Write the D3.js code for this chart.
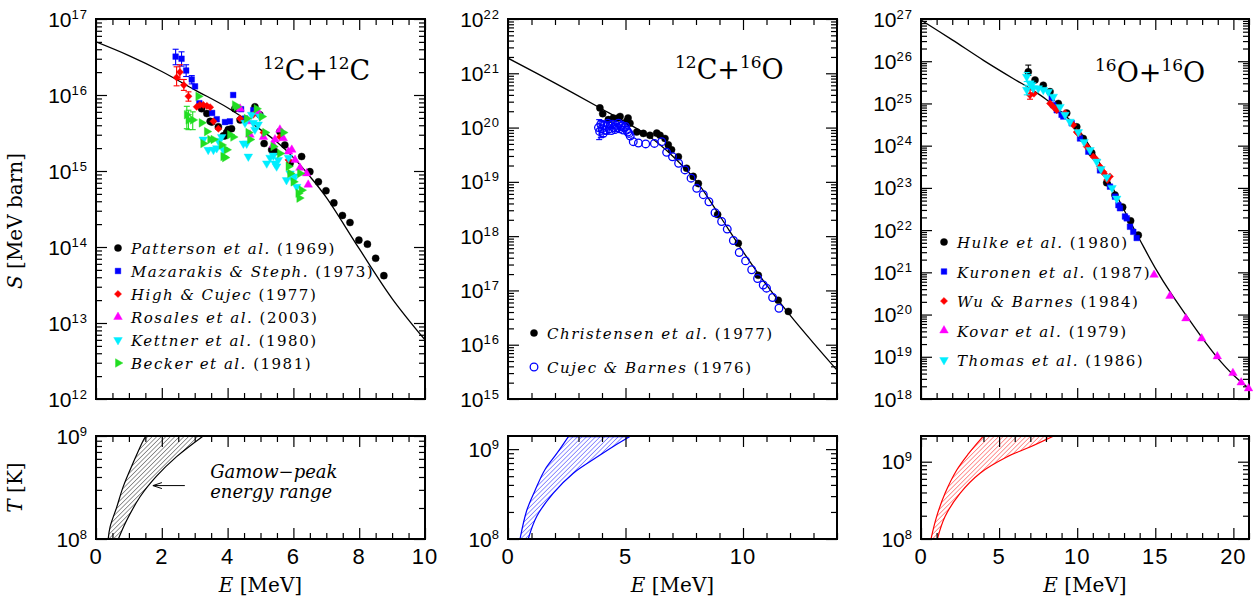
<!DOCTYPE html>
<html>
<head>
<meta charset="utf-8">
<script src="https://cdn.jsdelivr.net/npm/d3@7/dist/d3.min.js"></script>
<style>
  body { margin: 0; background: #fff; }
  .num { font-family: "Liberation Sans", Arial, sans-serif; }
  .lbl { font-family: "DejaVu Serif", serif; }
</style>
</head>
<body>
<svg id="chart" width="1253" height="603"></svg>
<script>
// ---------------- 12C + 12C  (E [MeV], S [MeV barn]) ----------------
const ccModel = [[0,5.0e16],[1,3.3e16],[2,2.04e16],[3,1.17e16],[4,6.8e15],[5,3.5e15],[5.5,2.4e15],[6,1.5e15],
  [6.5,8.5e14],[7,4.5e14],[8,9.5e13],[9,2.1e13],[10,6.0e12]];
const ccPatterson = [[3.21,6.6e15],[3.37,5.7e15],[3.47,4.5e15],[3.52,4.4e15],[3.72,3.8e15],[3.87,2.9e15],[3.92,2.9e15],
  [3.97,3.2e15],[4.02,3.5e15],[4.12,3.6e15],[4.22,6.6e15],[4.38,4.7e15],[4.83,7.0e15],[4.98,5.5e15],[5.11,2.3e15],
  [5.34,1.9e15],[5.44,1.8e15],[5.59,3.3e15],[5.74,2.2e15],[5.90,1.26e15],[6.25,1.55e15],[6.50,9.8e14],[6.76,7.2e14],
  [6.99,5.5e14],[7.23,3.8e14],[7.49,2.6e14],[7.72,2.1e14],[7.99,1.23e14],[8.25,1.09e14],[8.50,7.1e13],[8.75,4.2e13]];
const ccMazarakis = [[2.42,3.2e16],[2.60,3.0e16],[2.74,2.1e16],[2.91,1.6e16],[3.01,1.3e16],[3.14,7.8e15],[3.53,5.8e15],
  [3.67,4.8e15],[3.92,4.4e15],[4.07,4.5e15],[4.17,1.0e16],[4.41,6.5e15],[4.53,4.9e15],[4.78,6.3e15]];
const ccMazarakisErr = [[2.42,2.5e16,4.0e16],[2.60,2.4e16,3.7e16],[2.74,1.75e16,2.5e16],[2.91,1.4e16,1.8e16]];
const ccHigh = [[2.45,1.7e16],[2.55,2.0e16],[2.67,1.35e16],[2.81,9.6e15],[3.06,7.0e15],[3.16,7.4e15],[3.26,7.4e15],
  [3.37,7.2e15],[3.47,6.9e15],[3.57,4.5e15],[3.72,3.6e15],[4.38,4.9e15],[4.78,5.5e15],[5.09,3.2e15],[5.59,2.8e15],[5.85,1.4e15]];
const ccHighErr = [[2.45,1.32e16,2.35e16],[2.55,1.6e16,2.5e16],[2.67,1.15e16,1.6e16],[2.81,8.3e15,1.1e16]];
const ccRosales = [[4.38,6.6e15],[4.63,4.5e15],[4.68,3.0e15],[4.93,6.0e15],[5.09,2.8e15],[5.39,2.2e15],[5.44,2.6e15],
  [5.59,3.5e15],[5.69,2.7e15],[5.85,1.8e15],[5.95,1.9e15],[6.05,1.4e15],[6.20,1.1e15],[6.40,9.3e14],[6.45,6.6e14]];
const ccKettner = [[3.26,2.6e15],[3.41,1.9e15],[3.57,1.9e15],[3.67,2.0e15],[3.72,2.5e15],[3.82,2.8e15],[3.87,1.9e15],
  [4.48,2.3e15],[4.53,4.3e15],[4.58,2.3e15],[4.63,1.55e15],[4.73,5.5e15],[4.78,4.3e15],[4.83,3.5e15],[4.93,4.1e15],
  [4.98,5.2e15],[5.19,1.26e15],[5.29,1.5e15],[5.39,1.6e15],[5.44,1.26e15],[5.49,1.15e15],[5.54,1.4e15],[5.79,7.6e14],
  [5.85,1.5e15],[5.90,9.3e14],[6.00,7.6e14],[6.02,8.5e14],[6.10,6.2e14]];
const ccBecker = [[2.76,5.5e15],[2.81,4.7e15],[2.94,4.7e15],[3.11,9.6e15],[3.21,4.3e15],[3.26,2.3e15],[3.37,3.3e15],
  [3.47,2.6e15],[3.57,2.6e15],[3.82,2.2e15],[3.87,1.55e15],[3.92,1.5e15],[3.97,1.9e15],[4.07,3.0e15],[4.17,2.8e15],
  [4.22,7.4e15],[4.27,7.0e15],[4.58,4.9e15],[4.63,3.2e15],[4.68,2.6e15],[4.88,6.6e15],[5.04,5.2e15],[5.14,3.2e15],
  [5.39,2.1e15],[5.59,1.7e15],[5.69,3.2e15],[5.85,1.15e15],[5.90,9.3e14],[6.00,7.2e14],[6.15,5.1e14],[6.18,4.4e14],
  [6.20,9.3e14],[6.25,5.6e14]];
const ccBeckerErr = [[2.76,3.6e15,7.1e15],[2.81,3.5e15,6.3e15],[2.94,3.5e15,6.0e15]];
const ccNames = ["Patterson et al.", "Mazarakis & Steph.", "High & Cujec", "Rosales et al.", "Kettner et al.", "Becker et al."];
const ccYears = ["(1969)", "(1973)", "(1977)", "(2003)", "(1980)", "(1981)"];
// Gamow window edges: [T (K), E (MeV)]
const ccGamowLow = [[1e8,0.37],[1.32e8,0.43],[2.04e8,0.63],[3.24e8,0.83],[5.5e8,1.13],[9.1e8,1.44],[1e9,1.52]];
const ccGamowHigh = [[1e8,0.68],[1.51e8,0.93],[2.57e8,1.34],[4.07e8,1.84],[6.3e8,2.45],[1e9,3.26]];

// ---------------- 12C + 16O ----------------
const coModel = [[0,1.9e21],[2,6.6e20],[4,2.2e20],[5,1.26e20],[6,6.9e19],[7,3.0e19],[8,1.05e19],[9,2.4e18],
  [10,5.2e17],[11,1.26e17],[12,3.5e16],[13,1.07e16],[14,3.4e15]];
const coChristensen = [[3.91,2.3e20],[4.03,1.8e20],[4.27,1.4e20],[4.48,1.5e20],[4.69,1.5e20],[4.77,1.6e20],[5.05,1.3e20],
  [5.11,1.5e20],[5.19,1.2e20],[5.48,8.3e19],[5.76,7.8e19],[6.04,7.2e19],[6.33,7.9e19],[6.47,7.2e19],[6.68,6.3e19],
  [6.82,4.8e19],[6.96,3.9e19],[7.25,2.9e19],[7.60,1.78e19],[7.88,1.26e19],[8.10,9.3e18],[8.92,2.5e18],[9.80,7.4e17],
  [10.65,1.9e17],[11.50,6.6e16],[11.93,4.1e16]];
const coCujec = [[3.85,1.0e20],[3.90,8.5e19],[3.95,1.15e20],[4.00,9.5e19],[4.05,7.8e19],[4.10,1.1e20],[4.15,9.0e19],
  [4.20,1.05e20],[4.25,1.2e20],[4.30,9.5e19],[4.35,1.1e20],[4.40,8.8e19],[4.45,1.15e20],[4.50,1.0e20],[4.55,9.2e19],
  [4.60,1.1e20],[4.65,1.0e20],[4.70,1.2e20],[4.75,9.5e19],[4.80,1.05e20],[4.85,1.1e20],[4.90,9.0e19],[4.95,1.0e20],
  [5.00,1.05e20],[5.05,9.0e19],[5.10,8.3e19],[5.15,7.8e19],[5.20,7.0e19],[5.33,5.5e19],[5.55,5.2e19],[5.86,5.0e19],
  [6.23,5.1e19],[6.54,5.5e19],[6.75,3.5e19],[7.00,2.9e19],[7.26,2.2e19],[7.53,1.66e19],[7.79,1.17e19],[8.03,7.6e18],
  [8.31,5.8e18],[8.55,4.3e18],[8.81,2.7e18],[9.09,1.86e18],[9.33,1.35e18],[9.59,8.3e17],[9.84,5.0e17],[10.11,3.5e17],
  [10.37,2.4e17],[10.62,1.66e17],[10.86,1.26e17],[11.00,1.1e17],[11.26,7.4e16],[11.53,4.7e16]];
const coCujecErr = [[3.88,6.0e19,1.4e20],[3.95,6.5e19,1.35e20],[4.05,6.8e19,1.3e20],[4.20,7.5e19,1.3e20]];
const coNames = ["Christensen et al.", "Cujec & Barnes"];
const coYears = ["(1977)", "(1976)"];
const coGamowLow = [[1e8,0.51],[2.09e8,0.80],[3.47e8,1.15],[5.9e8,1.57],[8.9e8,2.07],[1.38e9,2.57]];
const coGamowHigh = [[1e8,0.86],[1.78e8,1.22],[3.24e8,1.93],[5.4e8,2.78],[8.1e8,3.77],[1.07e9,4.48],[1.38e9,5.19]];

// ---------------- 16O + 16O ----------------
const ooModel = [[0,9.5e26],[2,3.2e26],[4,1.05e26],[6,3.7e25],[7,2.24e25],[8,1.26e25],[9,6.3e24],[10,2.6e24],
  [11,7.4e23],[12,1.58e23],[13,3.0e22],[14,6.0e21],[15,1.26e21],[16,3.2e20],[17,9.3e19],[18,2.8e19],[19,9.3e18],
  [20,3.7e18],[21,1.8e18]];
const ooHulke = [[6.87,5.6e25],[7.30,3.6e25],[7.83,2.7e25],[8.26,1.9e25],[8.79,1.0e25],[9.33,5.9e24],[9.97,2.8e24],
  [10.39,1.48e24],[10.93,6.8e23],[11.89,1.32e23],[12.42,6.8e22],[12.91,3.5e22],[13.42,1.66e22],[13.91,7.6e21]];
const ooHulkeErr = [[6.87,4.6e25,8.1e25]];
const ooKuronen = [[8.37,1.32e25],[8.47,9.1e24],[8.69,6.9e24],[9.00,5.4e24],[9.11,4.9e24],[9.65,3.4e24],[10.18,1.48e24],
  [10.71,7.2e23],[11.46,2.6e23],[12.10,1.07e23],[12.42,6.2e22],[12.64,3.9e22],[12.74,3.3e22],[13.06,2.1e22],
  [13.17,1.9e22],[13.38,1.2e22],[13.59,9.1e21],[13.81,6.5e21]];
const ooWu = [[6.98,1.58e25],[7.23,1.7e25],[8.26,1.0e25],[8.47,8.3e24],[8.69,6.9e24],[9.22,5.9e24],[9.75,3.1e24],
  [9.97,2.1e24],[10.07,1.95e24],[10.61,9.5e23],[11.03,5.5e23],[11.25,4.6e23],[11.46,3.2e23],[11.50,2.9e23],
  [11.67,2.4e23],[11.72,2.2e23],[11.93,1.55e23],[12.10,1.86e23]];
const ooWuErr = [[6.98,1.26e25,2.1e25]];
const ooKovar = [[14.92,8.7e20],[15.94,2.75e20],[16.96,8.1e19],[17.97,2.7e19],[18.97,1.02e19],[19.97,4.1e18],
  [20.50,2.45e18],[20.97,1.78e18]];
const ooThomas = [[6.77,4.3e25],[6.77,2.1e25],[6.98,3.0e25],[7.09,2.75e25],[7.19,2.3e25],[7.51,2.3e25],[7.83,2.1e25],
  [8.15,1.9e25],[8.47,1.45e25],[8.90,8.3e24],[9.22,5.4e24],[9.54,3.7e24],[10.07,2.1e24],[10.44,1.23e24],[10.82,7.9e23],
  [11.25,4.2e23],[11.52,2.8e23],[11.89,1.8e23],[12.23,1.0e23],[12.53,5.6e22]];
const ooThomasErr = [[6.77,3.3e25,5.4e25],[6.77,1.6e25,2.7e25]];
const ooNames = ["Hulke et al.", "Kuronen et al.", "Wu & Barnes", "Kovar et al.", "Thomas et al."];
const ooYears = ["(1980)", "(1987)", "(1984)", "(1979)", "(1986)"];
const ooGamowLow = [[1e8,0.64],[1.95e8,1.00],[3.9e8,1.54],[7.8e8,2.29],[1.26e9,3.03],[2.14e9,3.99]];
const ooGamowHigh = [[1e8,1.05],[1.95e8,1.54],[3.9e8,2.50],[7.1e8,3.78],[1.15e9,5.49],[1.55e9,6.98],[2.14e9,8.47]];

// annotation in the first T panel
const gamowText = ["Gamow\u2212peak", "energy range"];
const arrowFrom = [2.7, 3.3e8], arrowTo = [1.73, 3.3e8];

// ---------------- layout ----------------
const svg = d3.select("#chart");
const topBox = {y: 19, h: 380}, botBox = {y: 436, h: 103};

const marks = {
  dot:     {type: d3.symbolCircle,   size: 40, rot: 0},
  square:  {type: d3.symbolSquare,   size: 32, rot: 0},
  diamond: {type: d3.symbolSquare,   size: 26, rot: 45},
  up:      {type: d3.symbolTriangle, size: 32, rot: 0},
  down:    {type: d3.symbolTriangle, size: 32, rot: 180},
  right:   {type: d3.symbolTriangle, size: 32, rot: 90},
  ring:    {type: d3.symbolCircle,   size: 46, rot: 0, open: true}
};
const GREEN = "#22dd22", CYAN = "#00eeff";

const panels = [
  { left: 96, width: 329, xMax: 10, xMajor: 2, xMinor: 0.5,
    sDomain: [1e12, 1e17], tDomain: [1e8, 1e9], model: ccModel,
    title: ["12", "C", "+", "12", "C"], titleAt: [167, 61],
    legend: {names: ccNames, years: ccYears, dx: 22, y0: 230, dy: 23},
    band: [ccGamowLow, ccGamowHigh], bandColor: "#000",
    series: [
      {data: ccPatterson, color: "#000", mark: "dot"},
      {data: ccMazarakis, err: ccMazarakisErr, color: "#0000ff", mark: "square"},
      {data: ccHigh, err: ccHighErr, color: "#ff0000", mark: "diamond"},
      {data: ccRosales, color: "#ff00ff", mark: "up"},
      {data: ccKettner, color: CYAN, mark: "down"},
      {data: ccBecker, err: ccBeckerErr, color: GREEN, mark: "right"}
    ] },
  { left: 508, width: 329, xMax: 14, xMajor: 5, xMinor: 1,
    sDomain: [1e15, 1e22], tDomain: [1e8, 1.4e9], model: coModel,
    title: ["12", "C", "+", "16", "O"], titleAt: [167, 60],
    legend: {names: coNames, years: coYears, dx: 26, y0: 315, dy: 34},
    band: [coGamowLow, coGamowHigh], bandColor: "#0000ff",
    series: [
      {data: coChristensen, color: "#000", mark: "dot"},
      {data: coCujec, err: coCujecErr, color: "#0000ff", mark: "ring"}
    ] },
  { left: 921, width: 328, xMax: 21, xMajor: 5, xMinor: 1,
    sDomain: [1e18, 1e27], tDomain: [1e8, 2.15e9], model: ooModel,
    title: ["16", "O", "+", "16", "O"], titleAt: [174, 63],
    legend: {names: ooNames, years: ooYears, dx: 23, y0: 224, dy: 29.5},
    band: [ooGamowLow, ooGamowHigh], bandColor: "#ff0000",
    series: [
      {data: ooHulke, err: ooHulkeErr, color: "#000", mark: "dot"},
      {data: ooKuronen, color: "#0000ff", mark: "square"},
      {data: ooWu, err: ooWuErr, color: "#ff0000", mark: "diamond"},
      {data: ooKovar, color: "#ff00ff", mark: "up"},
      {data: ooThomas, err: ooThomasErr, color: CYAN, mark: "down"}
    ] }
];

// frame with inward ticks on all four sides
function frame(x, y, p) {
  const g = svg.append("g");
  const [x0, x1] = x.range();
  const [yb, yt] = y.range();
  const xMaj = d3.range(0, p.xMax + 1e-9, p.xMajor);
  const xMin = d3.range(0, p.xMax + 1e-9, p.xMinor)
    .filter(v => Math.abs(v / p.xMajor - Math.round(v / p.xMajor)) > 1e-6);
  const [lo, hi] = y.domain();
  const yMaj = [], yMin = [];
  for (let k = Math.floor(Math.log10(lo)); k <= Math.ceil(Math.log10(hi)); k++) {
    for (let m = 1; m < 10; m++) {
      const v = m * Math.pow(10, k);
      if (v < lo * 0.999 || v > hi * 1.001) continue;
      (m === 1 ? yMaj : yMin).push(v);
    }
  }
  const sides = [
    [d3.axisBottom(x), `translate(0,${yb})`, xMaj, xMin],
    [d3.axisTop(x), `translate(0,${yt})`, xMaj, xMin],
    [d3.axisLeft(y), `translate(${x0},0)`, yMaj, yMin],
    [d3.axisRight(y), `translate(${x1},0)`, yMaj, yMin]
  ];
  sides.forEach(([ax, tr, maj, min]) => {
    [[maj, 11], [min, 6]].forEach(([vals, len]) => {
      g.append("g").attr("transform", tr)
        .call(ax.tickValues(vals).tickSize(-len).tickSizeOuter(0).tickFormat(""))
        .call(a => a.select(".domain").remove())
        .call(a => a.selectAll("line").attr("stroke", "#000").attr("stroke-width", 1.2));
    });
  });
  g.append("rect")
    .attr("x", x0).attr("y", yt).attr("width", x1 - x0).attr("height", yb - yt)
    .attr("fill", "none").attr("stroke", "#000").attr("stroke-width", 2);

  // y labels: 10^n
  const lab = svg.append("g").attr("class", "num");
  yMaj.forEach(v => {
    const t = lab.append("text")
      .attr("x", x0 - 8).attr("y", y(v) + 7.5).attr("text-anchor", "end");
    t.append("tspan").attr("font-size", 21).text("10");
    t.append("tspan").attr("font-size", 13).attr("dy", -8).attr("letter-spacing", 1)
      .text(Math.round(Math.log10(v)));
  });
  return xMaj;
}

function drawSeries(g, x, y, s) {
  const m = marks[s.mark];
  if (s.err) {
    const eg = g.append("g").attr("stroke", s.color).attr("stroke-width", 1.1);
    s.err.forEach(([e, lo, hi]) => {
      eg.append("line").attr("x1", x(e)).attr("x2", x(e)).attr("y1", y(lo)).attr("y2", y(hi));
      [lo, hi].forEach(v => eg.append("line")
        .attr("x1", x(e) - 3).attr("x2", x(e) + 3).attr("y1", y(v)).attr("y2", y(v)));
    });
  }
  g.append("g").selectAll("path").data(s.data).join("path")
    .attr("transform", d => `translate(${x(d[0])},${y(d[1])}) rotate(${m.rot})`)
    .attr("d", d3.symbol().type(m.type).size(m.size))
    .attr("fill", m.open ? "none" : s.color)
    .attr("stroke", s.color)
    .attr("stroke-width", m.open ? 1.3 : 0.4);
}

panels.forEach((p, i) => {
  const x = d3.scaleLinear().domain([0, p.xMax]).range([p.left, p.left + p.width]);
  const yS = d3.scaleLog().domain(p.sDomain).range([topBox.y + topBox.h, topBox.y]);
  const yT = d3.scaleLog().domain(p.tDomain).range([botBox.y + botBox.h, botBox.y]);

  svg.append("clipPath").attr("id", "clipS" + i).append("rect")
    .attr("x", p.left).attr("y", topBox.y).attr("width", p.width).attr("height", topBox.h);
  svg.append("clipPath").attr("id", "clipT" + i).append("rect")
    .attr("x", p.left).attr("y", botBox.y).attr("width", p.width).attr("height", botBox.h);

  // ---- top: S factor ----
  frame(x, yS, p);
  svg.append("path")
    .datum(p.model)
    .attr("clip-path", `url(#clipS${i})`)
    .attr("fill", "none").attr("stroke", "#000").attr("stroke-width", 1.3)
    .attr("d", d3.line().x(d => x(d[0])).y(d => yS(d[1])).curve(d3.curveCatmullRom));

  const dg = svg.append("g");
  p.series.forEach(s => drawSeries(dg, x, yS, s));

  // reaction label
  const tt = svg.append("text").attr("class", "lbl")
    .attr("x", p.left + p.titleAt[0]).attr("y", topBox.y + p.titleAt[1]).attr("font-size", 27);
  p.title.forEach((part, k) => {
    const isSup = k === 0 || k === 3;
    tt.append("tspan")
      .attr("font-size", isSup ? 17 : 27)
      .attr("dy", isSup ? -11 : (k === 1 || k === 4 ? 11 : 0))
      .text(part);
  });

  // legend
  const lg = svg.append("g");
  p.legend.names.forEach((name, k) => {
    const s = p.series[k], m = marks[s.mark];
    const cy = topBox.y + p.legend.y0 + k * p.legend.dy;
    const mx = p.left + p.legend.dx;
    lg.append("path")
      .attr("transform", `translate(${mx},${cy - 1}) rotate(${m.rot})`)
      .attr("d", d3.symbol().type(m.type).size(m.size))
      .attr("fill", m.open ? "none" : s.color).attr("stroke", s.color)
      .attr("stroke-width", m.open ? 1.3 : 0.4);
    const t = lg.append("text").attr("class", "lbl").attr("font-size", 15)
      .attr("letter-spacing", 1.5)
      .attr("x", mx + 13).attr("y", cy + 5);
    t.append("tspan").attr("font-style", "italic").text(name + " ");
    t.append("tspan").text(p.legend.years[k]);
  });

  // ---- bottom: temperature / Gamow window ----
  const pat = svg.append("pattern").attr("id", "hatch" + i)
    .attr("patternUnits", "userSpaceOnUse").attr("width", 3.2).attr("height", 3.2)
    .attr("patternTransform", "rotate(45)");
  pat.append("line").attr("x1", 0).attr("y1", 0).attr("x2", 0).attr("y2", 3.2)
    .attr("stroke", p.bandColor).attr("stroke-width", 0.8);

  const edge = d3.line().x(d => x(d[1])).y(d => yT(d[0])).curve(d3.curveCatmullRom);
  const [low, high] = p.band;
  const bandPath = edge(low) + "L" + edge(high.slice().reverse()).slice(1) + "Z";
  svg.append("path").attr("clip-path", `url(#clipT${i})`)
    .attr("d", bandPath)
    .attr("fill", `url(#hatch${i})`)
    .attr("stroke", p.bandColor).attr("stroke-width", 1.2);

  const xMaj = frame(x, yT, p);

  svg.append("g").attr("class", "num").selectAll("text").data(xMaj).join("text")
    .attr("x", d => x(d)).attr("y", botBox.y + botBox.h + 25)
    .attr("text-anchor", "middle").attr("font-size", 22).attr("letter-spacing", 1)
    .text(d => d);

  const xl = svg.append("text").attr("class", "lbl").attr("font-size", 20)
    .attr("x", p.left + p.width / 2).attr("y", 592).attr("text-anchor", "middle");
  xl.append("tspan").attr("font-style", "italic").text("E");
  xl.append("tspan").text(" [MeV]");

  if (i === 0) {
    const sl = svg.append("text").attr("class", "lbl").attr("font-size", 20)
      .attr("text-anchor", "middle")
      .attr("transform", `translate(22,${topBox.y + topBox.h / 2 + 12}) rotate(-90)`);
    sl.append("tspan").attr("font-style", "italic").text("S");
    sl.append("tspan").text(" [MeV barn]");

    const tl = svg.append("text").attr("class", "lbl").attr("font-size", 20)
      .attr("text-anchor", "middle")
      .attr("transform", `translate(22,${botBox.y + botBox.h / 2}) rotate(-90)`);
    tl.append("tspan").attr("font-style", "italic").text("T");
    tl.append("tspan").text(" [K]");

    gamowText.forEach((s, k) => {
      svg.append("text").attr("class", "lbl").attr("font-size", 18).attr("font-style", "italic")
        .attr("x", x(3.47)).attr("y", yT(3.9e8) + k * 20)
        .text(s);
    });
    const ax0 = x(arrowFrom[0]), ax1 = x(arrowTo[0]), ay = yT(arrowTo[1]);
    const ag = svg.append("g").attr("stroke", "#000").attr("stroke-width", 1).attr("fill", "none");
    ag.append("line").attr("x1", ax0).attr("x2", ax1).attr("y1", ay).attr("y2", ay);
    ag.append("path").attr("d", `M${ax1 + 9},${ay - 3}L${ax1},${ay}L${ax1 + 9},${ay + 3}`);
  }
});
</script>
</body>
</html>
